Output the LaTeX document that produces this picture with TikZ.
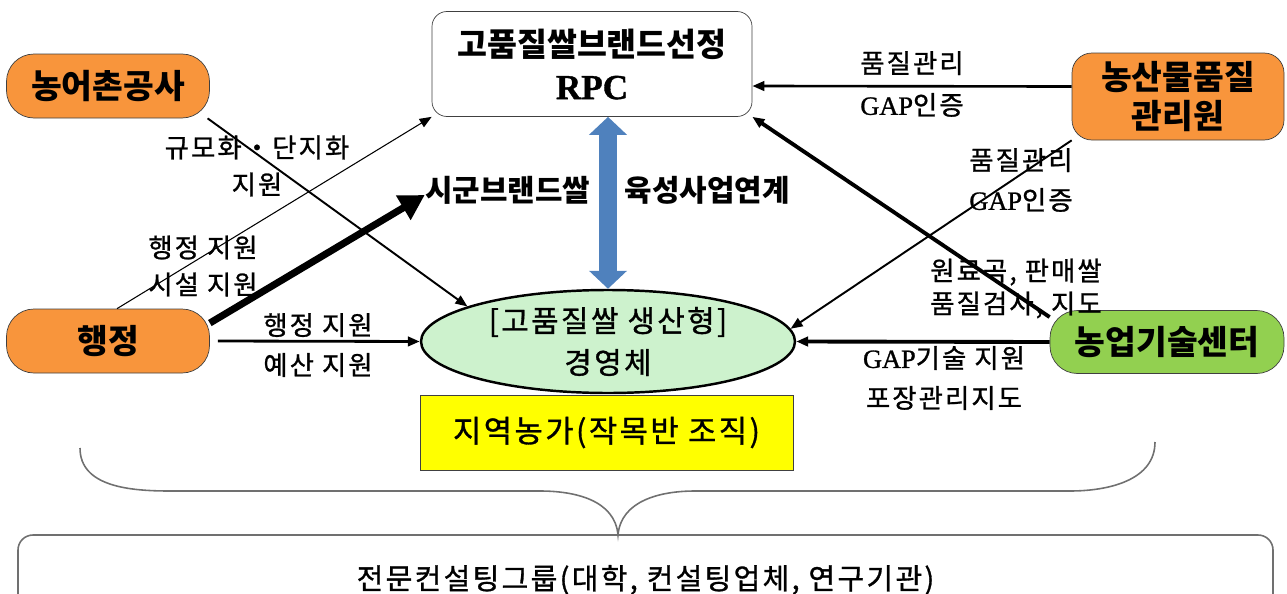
\documentclass[tikz,border=0pt]{standalone}
\usepackage{fontspec}
\setmainfont{Noto Sans CJK KR}
\newfontfamily\latfont{Liberation Serif}[FakeBold=1]
\newfontfamily\widefont{Noto Sans CJK KR}[LetterSpace=8, FakeBold=1]
\usetikzlibrary{shapes.geometric, arrows.meta}
\definecolor{agencyorange}{HTML}{F8953C}
\definecolor{techgreen}{HTML}{92D050}
\definecolor{farmgreen}{HTML}{CDF2CD}
\definecolor{villageyellow}{HTML}{FFFF00}
\definecolor{linkblue}{HTML}{4F81BD}
\definecolor{edgegray}{HTML}{404040}
\definecolor{bracegray}{HTML}{707070}

\begin{document}
\begin{tikzpicture}
    % Styles
    \tikzstyle{agency} = [rectangle, rounded corners=0.55cm, draw=edgegray, fill=agencyorange, minimum width=4.06cm, minimum height=1.28cm, text centered, font=\fontsize{19}{24}\selectfont\bfseries]
    \tikzstyle{plainbox} = [rectangle, rounded corners=0.3cm, draw=edgegray, fill=white, text centered, align=center]
    \tikzstyle{note} = [align=center, inner sep=0pt, font=\widefont\fontsize{15}{22.7}\selectfont]
    \tikzstyle{arrow} = [line width=1.2pt, -{Triangle[length=2.4mm,width=1.9mm]}]

    \useasboundingbox (0,0) rectangle (25.74,-11.86);

    % Nodes - using absolute positioning
    \node[agency] (rural) at (2.16,-1.72) {농어촌공사};
    \node[agency] (admin) at (2.16,-6.82) {행정};
    \node[plainbox, minimum width=6.4cm, minimum height=2.1cm, font=\fontsize{18.5}{24.5}\selectfont\bfseries] (rpc) at (11.84,-1.28) {고품질쌀브랜드선정\\{\latfont\bfseries\fontsize{20}{24.5}\selectfont RPC}};
    \node[agency, rounded corners=0.4cm, minimum width=4.24cm, minimum height=1.74cm, align=center, font=\fontsize{19}{22.7}\selectfont\bfseries] (quality) at (23.56,-1.93) {농산물품질\\관리원};
    \node[agency, fill=techgreen, minimum width=4.68cm, minimum height=1.26cm] (tech) at (23.34,-6.84) {농업기술센터};
    \node[ellipse, draw=black, line width=1.4pt, fill=farmgreen, inner sep=0pt, minimum width=7.48cm, minimum height=2.06cm, align=center, font=\widefont\fontsize{17}{23.8}\selectfont] (farm) at (12.16,-6.83) {[고품질쌀 생산형]\\경영체};
    \node[rectangle, draw=edgegray, fill=villageyellow, minimum width=7.46cm, minimum height=1.5cm, font=\widefont\fontsize{17.5}{22}\selectfont] (village) at (12.13,-8.65) {지역농가(작목반 조직)};
    \node[inner sep=0pt, font=\fontsize{17}{22}\selectfont\bfseries] (brand) at (12.15,-3.8) {시군브랜드쌀\hspace{0.7cm}육성사업연계};
    \node[plainbox, draw=bracegray, line width=0.9pt, minimum width=25.1cm, minimum height=1.8cm, font=\widefont\fontsize{16.5}{22}\selectfont] (consult) at (12.91,-11.6) {전문컨설팅그룹(대학, 컨설팅업체, 연구기관)};

    % Side notes
    \node[note, font=\widefont\fontsize{15}{21}\selectfont] (scale) at (5.14,-3.32) {규모화・단지화\\지원};
    \node[note, font=\widefont\fontsize{15}{21}\selectfont] (facility) at (4.06,-5.32) {행정 지원\\시설 지원};
    \node[note] (budget) at (6.36,-6.9) {행정 지원\\예산 지원};
    \node[note, font=\widefont\fontsize{15}{23.8}\selectfont] (certtop) at (18.24,-1.68) {품질관리\\{\latfont GAP}인증};
    \node[note] (certdiag) at (20.42,-3.6) {품질관리\\{\latfont GAP}인증};
    \node[note, font=\widefont\fontsize{15}{18.7}\selectfont] (inspect) at (20.32,-5.77) {원료곡, 판매쌀\\품질검사, 지도};
    \node[note] (guide) at (18.88,-7.56) {{\latfont GAP}기술 지원\\포장관리지도};

    % Arrows
    \draw[arrow, line width=0.6pt] ([xshift=0.18cm]admin.north) -- (rpc.south west);
    \draw[line width=4pt, -{Triangle[length=5mm,width=5.4mm]}] (admin.10) -- ([yshift=-0.1cm]brand.west);
    \draw[arrow, line width=1.1pt] (rural.-18) -- (farm.166);
    \draw[arrow, line width=1.6pt] ([xshift=0.16cm]admin.east) -- (farm.west);
    \draw[arrow, line width=1.5pt] ([yshift=0.2cm]quality.west) -- ([yshift=-0.44cm]rpc.east);
    \draw[arrow, line width=1.1pt] (quality.south west) -- (farm.4);
    \draw[arrow, line width=2.2pt] (tech.168) -- (rpc.south east);
    \draw[arrow, line width=2.2pt] (tech.west) -- (farm.east);

    % Link between RPC and farm
    \draw[line width=3.6mm, linkblue, {Triangle[length=3.6mm,width=7.4mm]}-{Triangle[length=3.6mm,width=7.4mm]}] (farm.north |- rpc.south) -- (farm.north);

    % Brace over the consulting group
    \draw[bracegray, line width=0.9pt] (1.6,-8.96) to[out=-90,in=180] (3.4,-9.82) -- (10.8,-9.82) to[out=0,in=95] (12.36,-10.7) to[out=85,in=180] (13.9,-9.82) -- (21.4,-9.82) to[out=0,in=-90] (23.1,-8.84);
\end{tikzpicture}
\end{document}
